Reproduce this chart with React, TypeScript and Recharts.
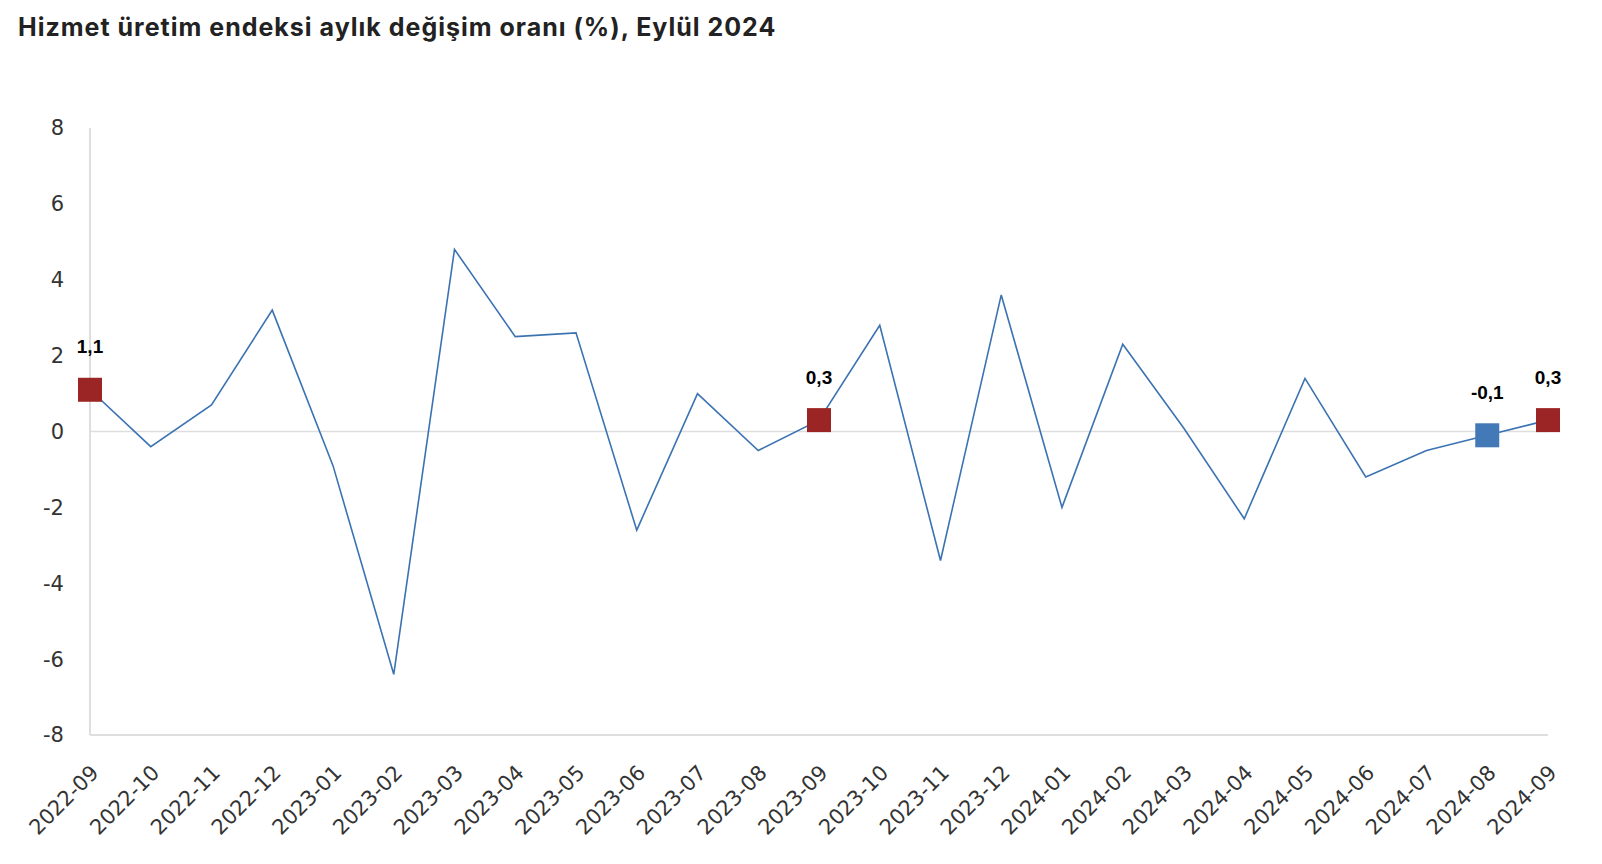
import React from "react";
import { LineChart, Line, XAxis, YAxis, ReferenceLine } from "recharts";

// Hizmet üretim endeksi, aylık değişim (%)
const months = [
  "2022-09", "2022-10", "2022-11", "2022-12", "2023-01", "2023-02", "2023-03",
  "2023-04", "2023-05", "2023-06", "2023-07", "2023-08", "2023-09", "2023-10",
  "2023-11", "2023-12", "2024-01", "2024-02", "2024-03", "2024-04", "2024-05",
  "2024-06", "2024-07", "2024-08", "2024-09",
];
const changes = [
  1.1, -0.4, 0.7, 3.2, -0.9, -6.4, 4.8, 2.5, 2.6, -2.6, 1.0, -0.5, 0.3, 2.8,
  -3.4, 3.6, -2.0, 2.3, 0.1, -2.3, 1.4, -1.2, -0.5, -0.1, 0.3,
];
const yTicks = [-8, -6, -4, -2, 0, 2, 4, 6, 8];
const redMarks = ["2022-09", "2023-09", "2024-09"];
const blueMarks = ["2024-08"];

const data = months.map((m, i) => ({ month: m, value: changes[i] }));

const fmt = (v: number) => v.toFixed(1).replace(".", ",");
const tickFont = "DejaVu Sans, Verdana, sans-serif";

const markColor = (m: string) =>
  redMarks.includes(m) ? "#9b2524" : blueMarks.includes(m) ? "#4279b6" : null;

const SquareDot = (props: any) => {
  const { cx, cy, payload, index } = props;
  const c = markColor(payload.month);
  if (!c) return <g key={"d" + index} />;
  return <rect key={"d" + index} x={cx - 12} y={cy - 12} width={24} height={24} fill={c} />;
};

const MarkLabel = (props: any) => {
  const { x, y, value, index } = props;
  if (!markColor(months[index])) return null;
  return (
    <text
      x={x}
      y={y - 43}
      textAnchor="middle"
      dominantBaseline="central"
      fontFamily="Liberation Sans, Arial, sans-serif"
      fontWeight="bold"
      fontSize={19}
      fill="#000"
    >
      {fmt(value)}
    </text>
  );
};

const MonthTick = (props: any) => {
  const { x, y, payload } = props;
  return (
    <text
      x={x + 10}
      y={y + 31}
      transform={`rotate(-45 ${x + 10} ${y + 31})`}
      textAnchor="end"
      fontFamily={tickFont}
      fontSize={21}
      fill="#333"
    >
      {payload.value}
    </text>
  );
};

export default function App() {
  return (
    <div style={{ position: "absolute", left: 0, top: 0, width: 1602, height: 864, background: "#fff" }}>
      <div
        style={{
          position: "absolute",
          left: 18,
          top: 12,
          fontFamily: "Inter, sans-serif",
          fontWeight: 700,
          fontSize: 25,
          letterSpacing: 1,
          color: "#222",
        }}
      >
        Hizmet üretim endeksi aylık değişim oranı (%), Eylül 2024
      </div>
      <LineChart
        width={1602}
        height={864}
        data={data}
        margin={{ top: 128, right: 54, left: 0, bottom: 0 }}
      >
        <XAxis
          dataKey="month"
          interval={0}
          height={129}
          tickLine={false}
          axisLine={{ stroke: "#dedede", strokeWidth: 2 }}
          tick={<MonthTick />}
        />
        <YAxis
          width={90}
          domain={[-8, 8]}
          ticks={yTicks}
          tickLine={false}
          tickSize={0}
          tickMargin={26}
          axisLine={{ stroke: "#dedede", strokeWidth: 2 }}
          tick={{ fill: "#333", fontSize: 21, fontFamily: tickFont }}
        />
        <ReferenceLine y={0} stroke="#dedede" strokeWidth={1.5} />
        <Line
          type="linear"
          dataKey="value"
          stroke="#3b73b2"
          strokeWidth={1.6}
          dot={SquareDot}
          activeDot={false}
          label={MarkLabel}
          isAnimationActive={false}
        />
      </LineChart>
    </div>
  );
}
